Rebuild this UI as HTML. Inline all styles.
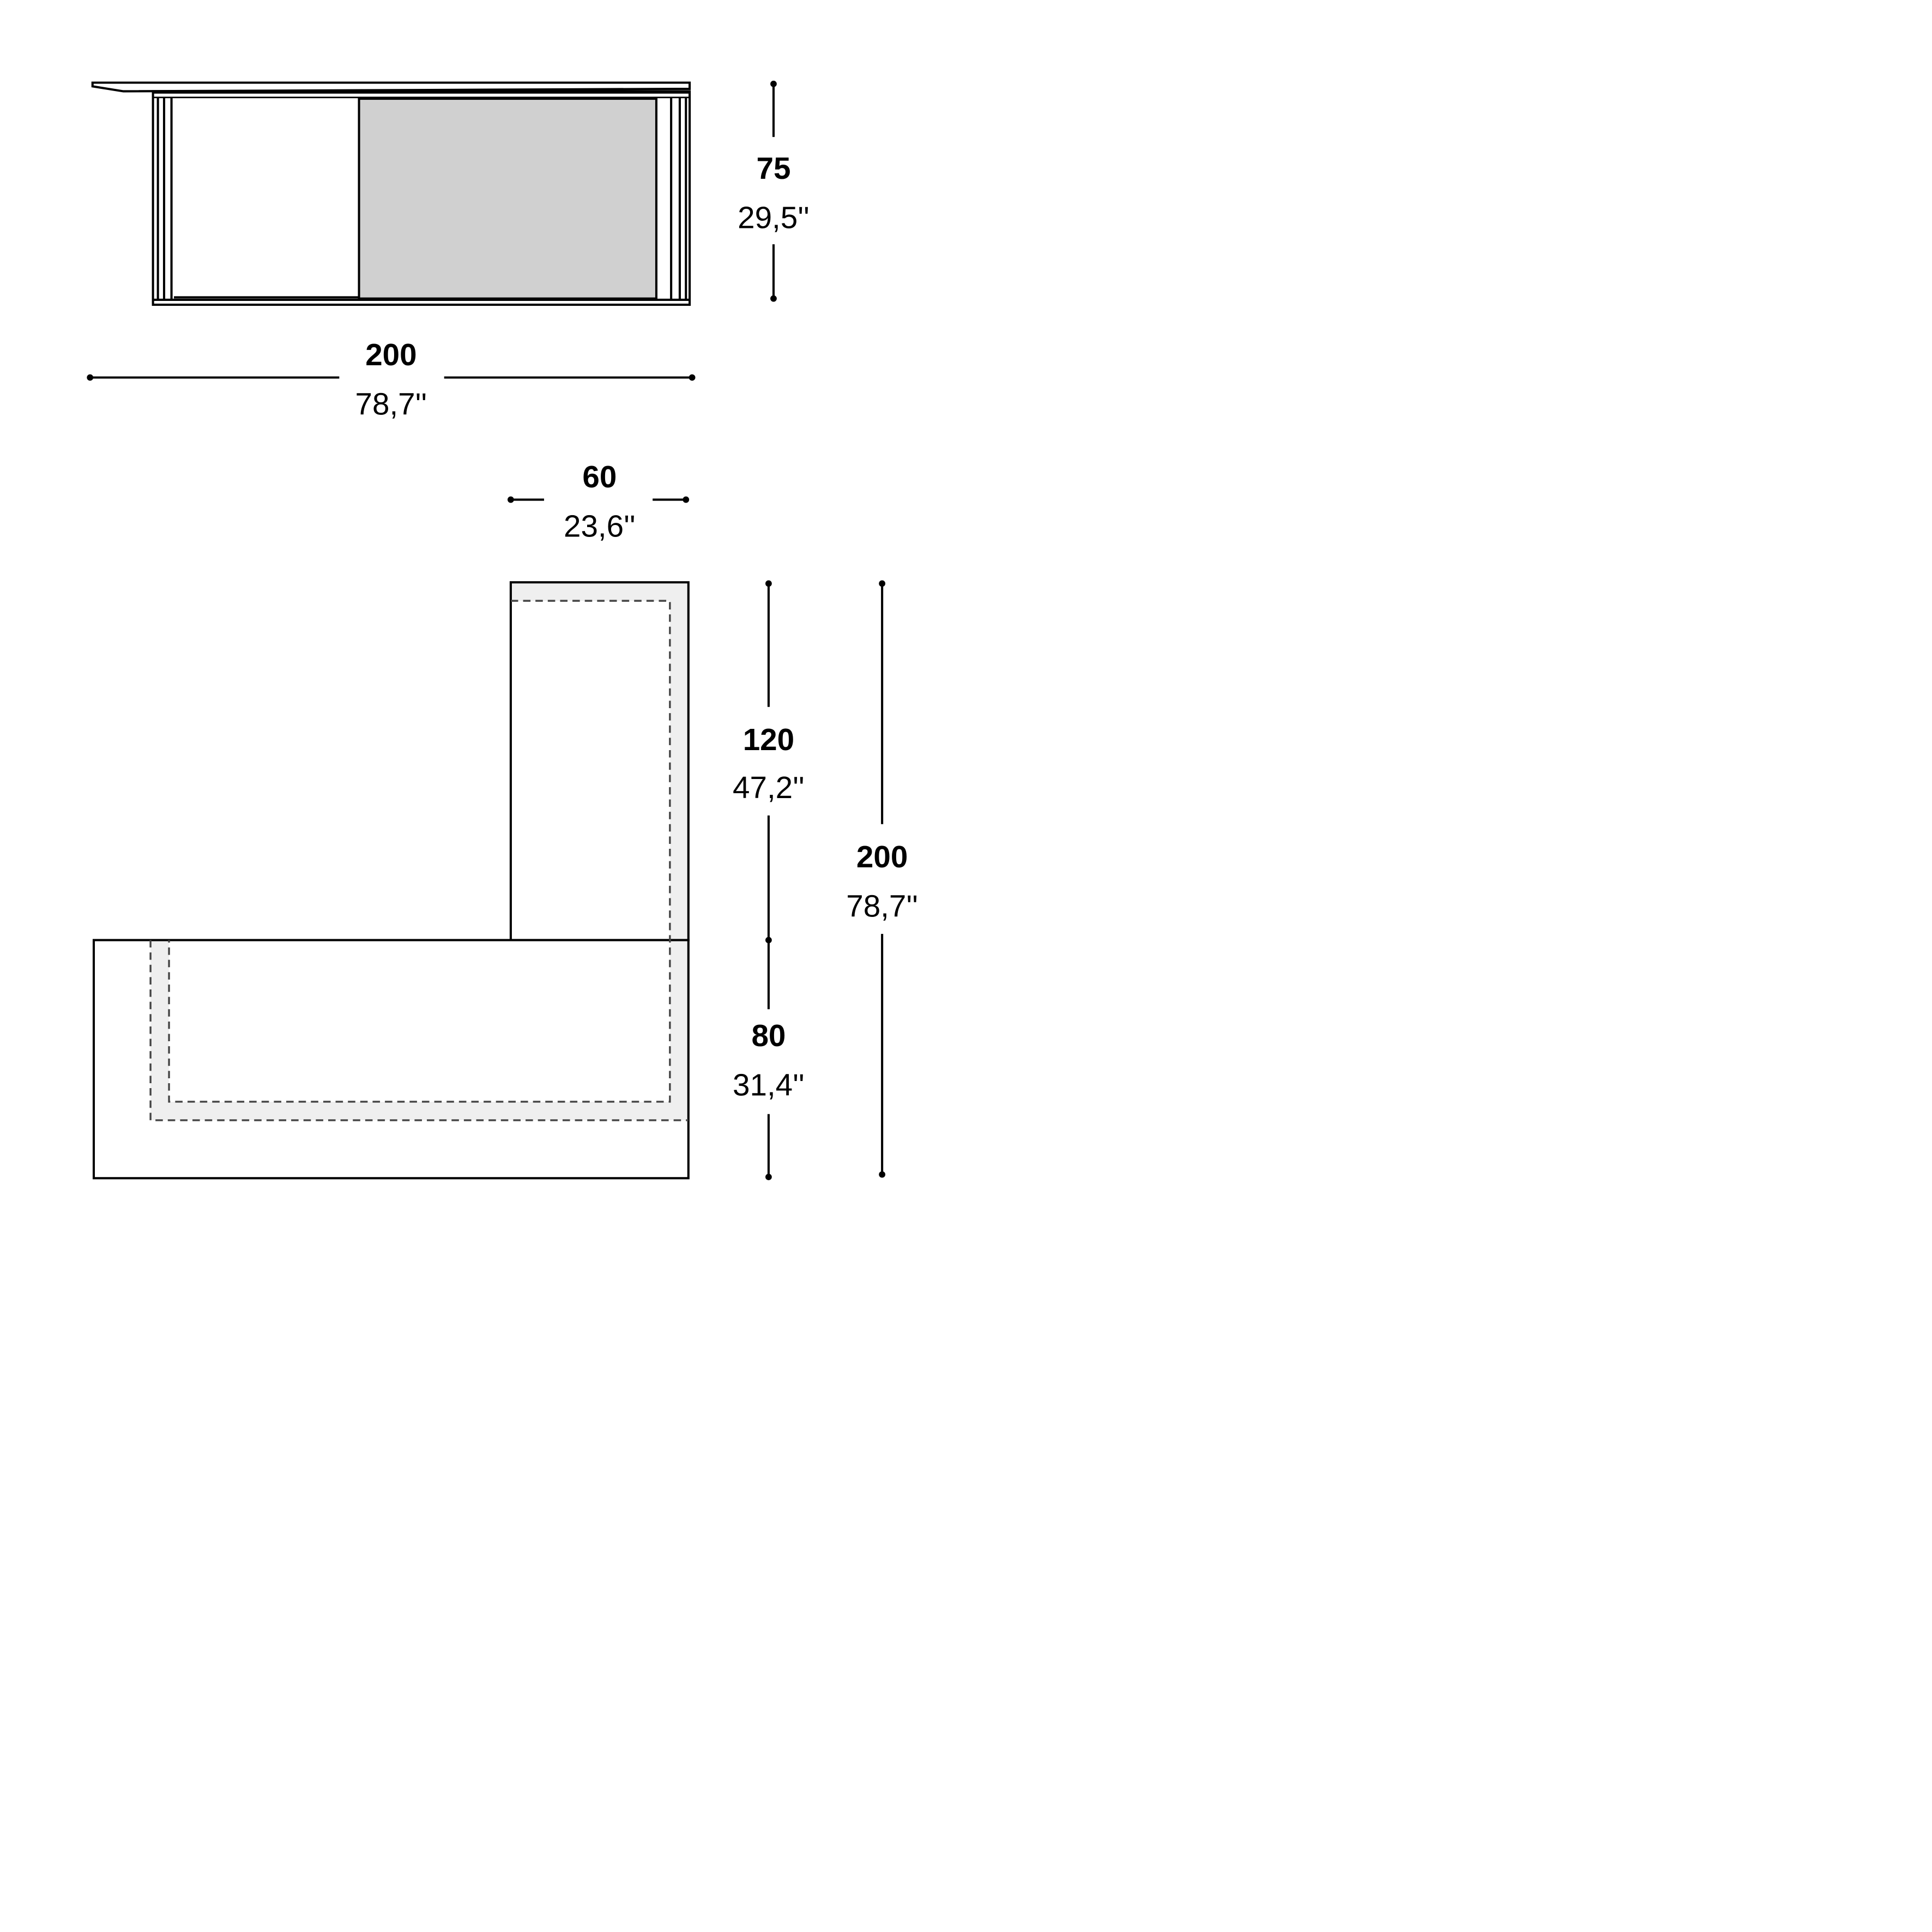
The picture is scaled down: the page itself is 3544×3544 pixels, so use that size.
<!DOCTYPE html>
<html><head><style>html,body{margin:0;padding:0;background:#fff}svg{display:block}</style></head>
<body>
<svg width="3544" height="3544" viewBox="0 0 1566 1566" xmlns="http://www.w3.org/2000/svg">
<rect width="1566" height="1566" fill="#fff"/>
<g stroke="#000" stroke-width="1.8" fill="none">
  <path d="M75,67 L559,67 L559,72 L100,74 L75,70 Z" fill="#fff"/>
  <line x1="124" y1="75" x2="559" y2="75"/>
  <rect x="291" y="80" width="241" height="162" fill="#d0d0d0"/>
  <rect x="124" y="74" width="435" height="173"/>
  <line x1="128" y1="79" x2="128" y2="243"/>
  <line x1="133" y1="79" x2="133" y2="243"/>
  <line x1="139" y1="79" x2="139" y2="243"/>
  <line x1="124" y1="79" x2="559" y2="79" stroke-width="1.2"/>
  <line x1="141" y1="241" x2="291" y2="241"/>
  <line x1="124" y1="243" x2="559" y2="243"/>
  <line x1="544" y1="79" x2="544" y2="243"/>
  <line x1="551" y1="79" x2="551" y2="243"/>
  <line x1="556" y1="79" x2="556" y2="243"/>
  <path d="M414,472 H558 V908 H122 V762 H137 V893 H543 V487 H414 Z" fill="#efefef" stroke="none"/>
  <rect x="414" y="472" width="144" height="290"/>
  <rect x="76" y="762" width="482" height="193"/>
  <g stroke="#444" stroke-width="1.5" stroke-dasharray="6,4">
    <path d="M414,487 H543 V893 H137 V762"/>
    <path d="M122,762 V908 H558"/>
  </g>
  <line x1="627" y1="68" x2="627" y2="111"/><line x1="627" y1="198" x2="627" y2="242"/>
  <line x1="73" y1="306" x2="275" y2="306"/><line x1="360" y1="306" x2="561" y2="306"/>
  <line x1="414" y1="405" x2="441" y2="405"/><line x1="529" y1="405" x2="556" y2="405"/>
  <line x1="623" y1="473" x2="623" y2="573"/><line x1="623" y1="661" x2="623" y2="818"/><line x1="623" y1="903" x2="623" y2="954"/>
  <line x1="715" y1="473" x2="715" y2="668"/><line x1="715" y1="757" x2="715" y2="952"/>
</g>
<g fill="#000">
  <circle cx="627" cy="68" r="2.6"/><circle cx="627" cy="242" r="2.6"/>
  <circle cx="73" cy="306" r="2.6"/><circle cx="561" cy="306" r="2.6"/>
  <circle cx="414" cy="405" r="2.6"/><circle cx="556" cy="405" r="2.6"/>
  <circle cx="623" cy="473" r="2.6"/><circle cx="623" cy="762" r="2.6"/><circle cx="623" cy="954" r="2.6"/>
  <circle cx="715" cy="473" r="2.6"/><circle cx="715" cy="952" r="2.6"/>
</g>
<g font-family="'Liberation Sans', sans-serif" font-size="25" text-anchor="middle">
  <g font-weight="bold">
    <text x="627" y="145">75</text>
    <text x="317" y="296">200</text>
    <text x="486" y="395">60</text>
    <text x="623" y="608">120</text>
    <text x="623" y="848">80</text>
    <text x="715" y="703">200</text>
  </g>
  <g font-weight="normal">
    <text x="627" y="185">29,5''</text>
    <text x="317" y="336">78,7''</text>
    <text x="486" y="435">23,6''</text>
    <text x="623" y="647">47,2''</text>
    <text x="623" y="888">31,4''</text>
    <text x="715" y="743">78,7''</text>
  </g>
</g>
</svg>
</body></html>
